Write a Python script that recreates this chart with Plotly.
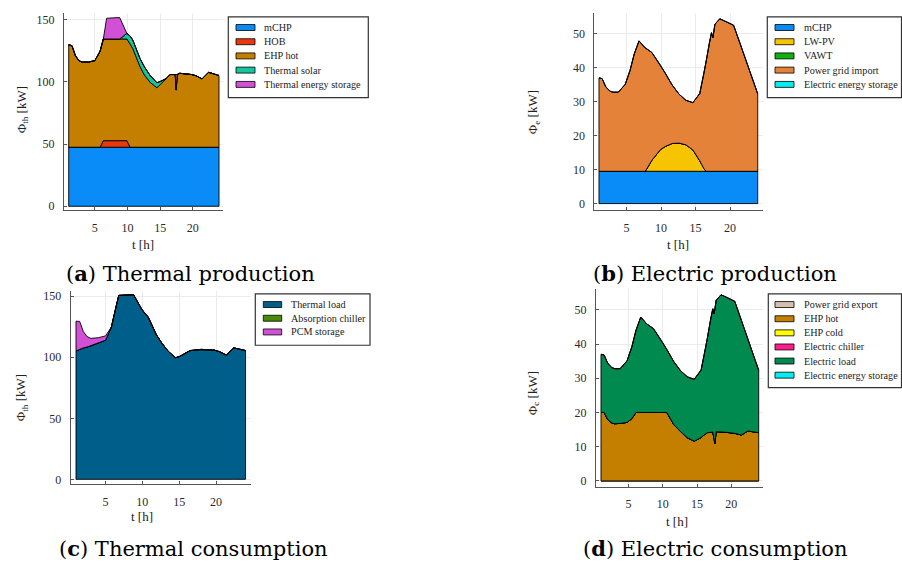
import plotly.graph_objects as go

W, H = 902, 569
FONT = "Liberation Serif"
CAP_FONT = "DejaVu Serif"

# ---------------- thermal time grid (h) ----------------
t_th = [1, 1.5, 2, 2.5, 3, 4, 5, 5.8, 6.3, 6.8, 8.8, 9.9, 10.4, 10.8, 11.9, 12.6,
        13.5, 14.5, 15.1, 16, 16.5, 17.3, 17.45, 17.6, 18, 19.8, 20.5, 21.4, 22.4, 24]

# (a) Thermal production [kW]
a_mchp = [47.5, 47.5, 47.5, 47.5, 47.5, 47.5, 47.5, 47.5, 47.5, 47.5, 47.5, 47.5, 47.5, 47.5, 47.5,
          47.5, 47.5, 47.5, 47.5, 47.5, 47.5, 47.5, 47.5, 47.5, 47.5, 47.5, 47.5, 47.5, 47.5, 47.5]
a_hob = [0, 0, 0, 0, 0, 0, 0, 0, 5.3, 5.3, 5.3, 5.3, 0, 0, 0,
         0, 0, 0, 0, 0, 0, 0, 0, 0, 0, 0, 0, 0, 0, 0]
a_ehp = [82.5, 81.7, 74.0, 70.0, 68.5, 68.5, 69.7, 77.2, 81.8, 81.8, 81.8, 81.8, 83.0, 79.5, 65.0,
         58.0, 52.0, 47.9, 51.0, 55.5, 58.5, 58.5, 46.0, 58.5, 59.5, 58.5, 57.5, 55.0, 60.3, 57.7]
a_solar = [0, 0, 0, 0, 0, 0, 0, 0, 0, 0, 0, 4.5, 6.5, 6.8, 6.5,
           6.5, 5.5, 4.0, 2.0, 0, 0, 0, 0, 0, 0, 0, 0, 0, 0, 0]
a_tes = [0, 0, 0, 0, 0, 0, 0, 0, 0, 16.7, 17.3, 0, 0, 0, 0,
         0, 0, 0, 0, 0, 0, 0, 12.5, 0, 0, 0, 0, 0, 0, 0]

# (c) Thermal consumption [kW]
c_load = [105.2, 106.5, 107.7, 108.4, 109.2, 111.6, 114.0, 124.7, 138.0, 150.7, 151.3, 139.5, 135.5, 132.9, 118.5,
          112.0, 105.0, 99.6, 100.8, 104.0, 105.5, 106.0, 106.0, 106.2, 106.5, 105.8, 104.5, 101.8, 107.7, 105.5]
c_absorption = [0, 0, 0, 0, 0, 0, 0, 0, 0, 0, 0, 0, 0, 0, 0,
                0, 0, 0, 0, 0, 0, 0, 0, 0, 0, 0, 0, 0, 0, 0]
c_pcm = [24.4, 22.9, 13.3, 8.6, 6.3, 4.4, 3.5, 0, 0, 0, 0, 0, 0, 0, 0,
         0, 0, 0, 0, 0, 0, 0, 0, 0, 0, 0, 0, 0, 0, 0]

# ---------------- electric time grid (h) ----------------
t_el = [1, 1.45, 2, 2.6, 3, 3.8, 4.8, 5.5, 6.1, 6.8, 7.7, 7.9, 8.65, 9.9, 10.6, 11.6, 12.6,
        13.6, 14.6, 15.6, 16.2, 16.5, 17.0, 17.3, 17.5, 17.6, 17.8, 18.5, 19.3, 20.5, 21.5, 22.4, 23.2, 24]

# (b) Electric production [kW]
b_mchp = [9.5, 9.5, 9.5, 9.5, 9.5, 9.5, 9.5, 9.5, 9.5, 9.5, 9.5, 9.5, 9.5, 9.5, 9.5, 9.5, 9.5,
          9.5, 9.5, 9.5, 9.5, 9.5, 9.5, 9.5, 9.5, 9.5, 9.5, 9.5, 9.5, 9.5, 9.5, 9.5, 9.5, 9.5]
b_pv = [0, 0, 0, 0, 0, 0, 0, 0, 0, 0, 0, 0.6, 3.2, 6.4, 7.3, 8.2, 8.3,
        7.8, 6.3, 3.1, 0.8, 0, 0, 0, 0, 0, 0, 0, 0, 0, 0, 0, 0, 0]
b_vawt = [0, 0, 0, 0, 0, 0, 0, 0, 0, 0, 0, 0, 0, 0, 0, 0, 0,
          0, 0, 0, 0, 0, 0, 0, 0, 0, 0, 0, 0, 0, 0, 0, 0, 0]
b_grid = [27.5, 27.3, 24.8, 23.6, 23.3, 23.3, 25.6, 29.7, 34.5, 38.4, 36.3, 35.5, 31.8, 24.9, 21.6, 17.2, 14.4,
          13.1, 13.9, 19.8, 27.9, 32.1, 37.9, 40.8, 39.3, 41.3, 43.3, 44.9, 44.2, 43.0, 37.3, 32.1, 27.3, 22.8]
b_ees = [0, 0, 0, 0, 0, 0, 0, 0, 0, 0, 0, 0, 0, 0, 0, 0, 0,
         0, 0, 0, 0, 0, 0, 0, 0, 0, 0, 0, 0, 0, 0, 0, 0, 0]

# (d) Electric consumption [kW]
d_export = [0, 0, 0, 0, 0, 0, 0, 0, 0, 0, 0, 0, 0, 0, 0, 0, 0,
            0, 0, 0, 0, 0, 0, 0, 0, 0, 0, 0, 0, 0, 0, 0, 0, 0]
d_ehp_hot = [20.0, 20.0, 17.9, 16.9, 16.7, 16.8, 17.1, 18.2, 20.0, 20.0, 20.0, 20.0, 20.0, 20.0, 20.0, 16.5, 14.4,
             12.6, 11.6, 12.7, 13.7, 14.1, 14.2, 14.3, 12.5, 10.9, 14.4, 14.4, 14.2, 13.9, 13.4, 14.6, 14.4, 14.1]
d_ehp_cold = [0, 0, 0, 0, 0, 0, 0, 0, 0, 0, 0, 0, 0, 0, 0, 0, 0,
              0, 0, 0, 0, 0, 0, 0, 0, 0, 0, 0, 0, 0, 0, 0, 0, 0]
d_chiller = [0, 0, 0, 0, 0, 0, 0, 0, 0, 0, 0, 0, 0, 0, 0, 0, 0,
             0, 0, 0, 0, 0, 0, 0, 0, 0, 0, 0, 0, 0, 0, 0, 0, 0]
d_load = [17.0, 16.8, 16.4, 16.2, 16.1, 16.0, 18.0, 21.0, 24.0, 27.9, 25.8, 25.6, 24.5, 20.8, 18.4, 18.4, 17.8,
          17.8, 18.1, 19.7, 24.5, 27.5, 33.2, 36.0, 36.3, 39.9, 38.4, 40.0, 39.5, 38.6, 33.4, 27.0, 22.4, 18.2]
d_ees = [0, 0, 0, 0, 0, 0, 0, 0, 0, 0, 0, 0, 0, 0, 0, 0, 0,
         0, 0, 0, 0, 0, 0, 0, 0, 0, 0, 0, 0, 0, 0, 0, 0, 0]

# ---------------- series names / colours ----------------
names_a = ["mCHP", "HOB", "EHP hot", "Thermal solar", "Thermal energy storage"]
names_b = ["mCHP", "LW-PV", "VAWT", "Power grid import", "Electric energy storage"]
names_c = ["Thermal load", "Absorption chiller", "PCM storage"]
names_d = ["Power grid export", "EHP hot", "EHP cold", "Electric chiller", "Electric load",
           "Electric energy storage"]

col_a = ["#0a8cf8", "#e8380d", "#c47f00", "#12c79e", "#d150d6"]
col_b = ["#0a8cf8", "#f6c400", "#10b010", "#e4823a", "#00eef0"]
col_c = ["#005e8a", "#4a8a05", "#d150d6"]
col_d = ["#d6bfae", "#c47f00", "#ffff00", "#ff1e8c", "#008a50", "#00eef0"]

captions = ["(<b>a</b>) Thermal production", "(<b>b</b>) Electric production",
            "(<b>c</b>) Thermal consumption", "(<b>d</b>) Electric consumption"]
ylabels = ["Φ<sub>th</sub> [kW]", "Φ<sub>e</sub> [kW]", "Φ<sub>th</sub> [kW]", "Φ<sub>c</sub> [kW]"]
xticks = [5, 10, 15, 20]
yticks_th = [0, 50, 100, 150]
yticks_el = [0, 10, 20, 30, 40, 50]


def px(x):
    return x / W


def py(y):
    return 1 - y / H


fig = go.Figure()

# panel geometry (pixels): x0, x1, ytop, ybottom, xrange, yrange, yticks
panels = [
    dict(x0=64, x1=223, yt=12, yb=210.7, xr=[0.28, 24.61], yr=[-3.2, 155.6], yt_vals=yticks_th),
    dict(x0=594.3, x1=762.7, yt=12.3, yb=210.7, xr=[0.32, 24.72], yr=[-1.96, 56.05], yt_vals=yticks_el),
    dict(x0=70.7, x1=250.7, yt=291.7, yb=486.7, xr=[0.28, 24.7], yr=[-4.07, 154.6], yt_vals=yticks_th),
    dict(x0=596, x1=763.3, yt=290, yb=489.3, xr=[0.27, 24.67], yr=[-1.74, 56.1], yt_vals=yticks_el),
]

data_sets = [
    (t_th, [a_mchp, a_hob, a_ehp, a_solar, a_tes], col_a, names_a),
    (t_el, [b_mchp, b_pv, b_vawt, b_grid, b_ees], col_b, names_b),
    (t_th, [c_load, c_absorption, c_pcm], col_c, names_c),
    (t_el, [d_export, d_ehp_hot, d_ehp_cold, d_chiller, d_load, d_ees], col_d, names_d),
]

for i, (t, series, cols, names) in enumerate(data_sets):
    xa = "x" if i == 0 else f"x{i+1}"
    ya = "y" if i == 0 else f"y{i+1}"
    bottom = [0.0] * len(t)
    for vals, c, n in zip(series, cols, names):
        top = [b + v for b, v in zip(bottom, vals)]
        xs = list(t) + list(reversed(t)) + [t[0]]
        ys = top + list(reversed(bottom)) + [top[0]]
        fig.add_trace(go.Scatter(x=xs, y=ys, fill="toself", fillcolor=c, mode="lines",
                                 line=dict(color="black", width=0.9), name=n,
                                 xaxis=xa, yaxis=ya, showlegend=False, hoverinfo="skip"))
        bottom = top

axis_common = dict(showgrid=True, gridcolor="#ebebeb", gridwidth=1, zeroline=False,
                   showline=True, linecolor="#555555", linewidth=1, ticks="inside", ticklen=3,
                   tickcolor="#555555", tickfont=dict(family=FONT, size=12, color="#2a2a2a"),
                   mirror=False, fixedrange=True)

for i, p in enumerate(panels):
    kx = "xaxis" if i == 0 else f"xaxis{i+1}"
    ky = "yaxis" if i == 0 else f"yaxis{i+1}"
    ya = "y" if i == 0 else f"y{i+1}"
    xa = "x" if i == 0 else f"x{i+1}"
    fig.layout[kx] = dict(axis_common, domain=[px(p["x0"]), px(p["x1"])], range=p["xr"],
                          tickvals=xticks, anchor=ya, ticklabelstandoff=6)
    fig.layout[ky] = dict(axis_common, domain=[py(p["yb"]), py(p["yt"])], range=p["yr"],
                          tickvals=p["yt_vals"], anchor=xa, ticklabelstandoff=6)

annotations = []
# axis titles
ytitle_pos = [(22, 110), (533, 112), (21, 400), (533, 395)]
xtitle_pos = [(143, 245), (678, 245), (142, 519), (677, 524)]
for i in range(4):
    annotations.append(dict(x=px(ytitle_pos[i][0]), y=py(ytitle_pos[i][1]), xref="paper", yref="paper",
                            text=ylabels[i], textangle=-90, showarrow=False, xanchor="center",
                            yanchor="middle", font=dict(family=FONT, size=13, color="#222222")))
    annotations.append(dict(x=px(xtitle_pos[i][0]), y=py(xtitle_pos[i][1]), xref="paper", yref="paper",
                            text="t [h]", showarrow=False, xanchor="center", yanchor="middle",
                            font=dict(family=FONT, size=13, color="#222222")))

# captions
cap_pos = [(190, 274), (715, 274), (193, 551), (715, 551)]
for (cx, cy), txt in zip(cap_pos, captions):
    annotations.append(dict(x=px(cx), y=py(cy), xref="paper", yref="paper", text=txt, showarrow=False,
                            xanchor="center", yanchor="middle",
                            font=dict(family=CAP_FONT, size=21, color="black")))

# legends (boxes with swatches)
legend_geo = [
    dict(box=(228.3, 16, 368.3, 97.3), sw=(236, 255), tx=262, ys=[26.7, 41.0, 55.3, 69.6, 84.0]),
    dict(box=(767.3, 16, 901.5, 97.3), sw=(775, 794), tx=801.7, ys=[26.7, 41.0, 55.3, 69.6, 84.0]),
    dict(box=(255.3, 295, 370, 346.7), sw=(263.3, 281.7), tx=288.7, ys=[305.7, 319.5, 333.3]),
    dict(box=(768.3, 295, 901.5, 389.3), sw=(775, 794), tx=801.7,
         ys=[305.7, 320.0, 334.2, 348.4, 362.6, 376.8]),
]
shapes = []
for geo, (t, series, cols, names) in zip(legend_geo, data_sets):
    bx0, by0, bx1, by1 = geo["box"]
    shapes.append(dict(type="rect", xref="paper", yref="paper", x0=px(bx0), x1=px(bx1), y0=py(by1), y1=py(by0),
                       line=dict(color="#333333", width=1.2), fillcolor="white", layer="above"))
    for yy, c, n in zip(geo["ys"], cols, names):
        shapes.append(dict(type="rect", xref="paper", yref="paper", x0=px(geo["sw"][0]), x1=px(geo["sw"][1]),
                           y0=py(yy + 3), y1=py(yy - 3), line=dict(color="black", width=0.8),
                           fillcolor=c, layer="above"))
        annotations.append(dict(x=px(geo["tx"]), y=py(yy), xref="paper", yref="paper", text=n,
                                showarrow=False, xanchor="left", yanchor="middle",
                                font=dict(family=FONT, size=10.2, color="#222222")))

fig.update_layout(width=W, height=H, margin=dict(l=0, r=0, t=0, b=0), autosize=False,
                  paper_bgcolor="white", plot_bgcolor="white", showlegend=False,
                  annotations=annotations, shapes=shapes)

fig.write_html("out.html", config={"displayModeBar": False},
               post_script="document.body.style.margin='0';")
